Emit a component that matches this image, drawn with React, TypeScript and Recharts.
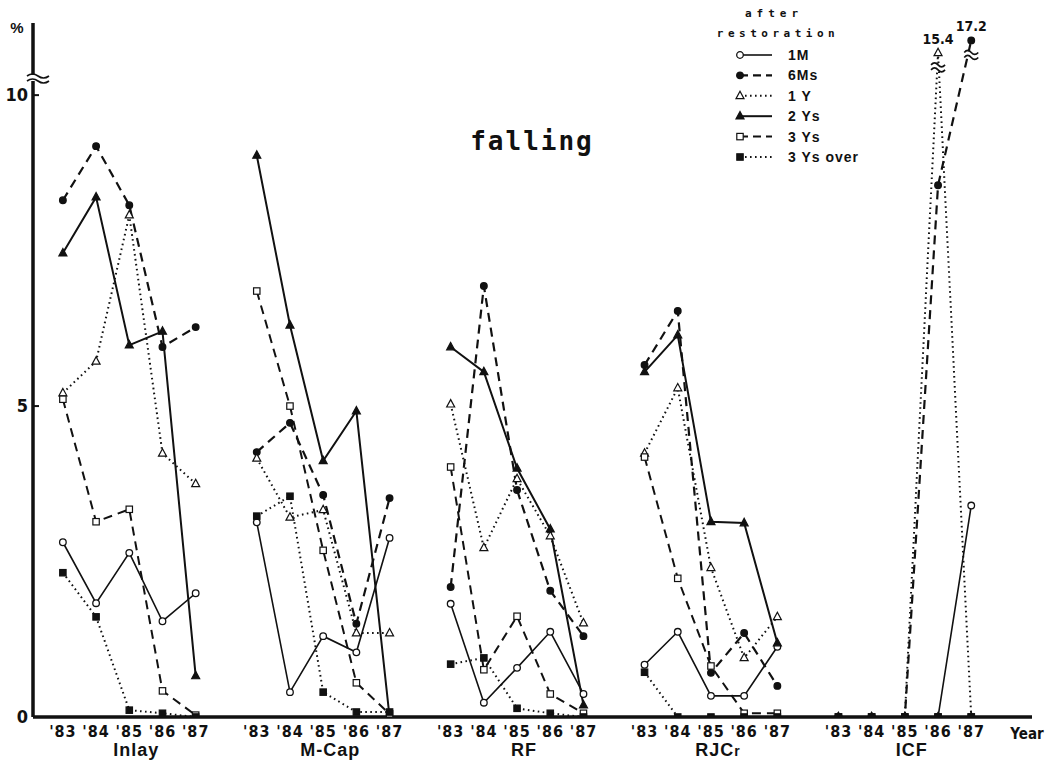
import React from 'react';
import { LineChart, Line, XAxis, YAxis, LabelList } from 'recharts';

// categories
const groups = ['Inlay', 'M-Cap', 'RF', 'RJCr', 'ICF'];
const years = ["'83", "'84", "'85", "'86", "'87"];
const yTicks = [0, 5, 10];

// series values, % (rows = groups, cols = years)
const oneMonth = [
  [2.81, 1.83, 2.64, 1.54, 1.99],
  [3.13, 0.4, 1.3, 1.04, 2.88],
  [1.82, 0.23, 0.79, 1.37, 0.37],
  [0.84, 1.37, 0.34, 0.34, 1.13],
  [0, 0, 0, 0, 3.4],
];
const sixMonths = [
  [8.31, 9.18, 8.23, 5.95, 6.27],
  [4.26, 4.73, 3.57, 1.5, 3.52],
  [2.09, 6.93, 3.65, 2.03, 1.3],
  [5.66, 6.53, 0.71, 1.35, 0.5],
  [0, 0, 0, 8.55, 17.2],
];
const oneYear = [
  [5.21, 5.72, 8.07, 4.24, 3.75],
  [4.16, 3.21, 3.33, 1.35, 1.35],
  [5.03, 2.72, 3.83, 2.91, 1.51],
  [4.24, 5.29, 2.4, 0.95, 1.61],
  [0, 0, 0, 15.4, 0],
];
const twoYears = [
  [7.46, 8.36, 5.98, 6.2, 0.66],
  [9.03, 6.3, 4.12, 4.92, 0],
  [5.95, 5.55, 4.0, 3.02, 0.19],
  [5.55, 6.14, 3.14, 3.12, 1.19],
  [0, 0, 0, 0, 0],
];
const threeYears = [
  [5.11, 3.14, 3.34, 0.42, 0.03],
  [6.85, 5.0, 2.68, 0.55, 0.05],
  [4.02, 0.76, 1.62, 0.37, 0.06],
  [4.18, 2.23, 0.82, 0.06, 0.06],
  [0, 0, 0, 0, 0],
];
const overThreeYears = [
  [2.32, 1.61, 0.11, 0.06, 0],
  [3.23, 3.55, 0.4, 0.08, 0.08],
  [0.85, 0.95, 0.14, 0.06, 0],
  [0.72, 0, 0, 0, 0],
  [0, 0, 0, 0, 0],
];

const INK = '#111';
const GROUP_STEP = 5.84;
const SOLID = undefined;
const DASHED = '9 6';
const DOTTED = '1.6 3.4';

const series = [
  { key: 'm1', name: '1M', values: oneMonth, dash: SOLID, shape: 'circle', filled: false, width: 1.6 },
  { key: 'm6', name: '6Ms', values: sixMonths, dash: DASHED, shape: 'circle', filled: true, width: 2.2 },
  { key: 'y1', name: '1 Y', values: oneYear, dash: DOTTED, shape: 'triangle', filled: false, width: 2 },
  { key: 'y2', name: '2 Ys', values: twoYears, dash: SOLID, shape: 'triangle', filled: true, width: 2 },
  { key: 'y3', name: '3 Ys', values: threeYears, dash: DASHED, shape: 'square', filled: false, width: 2 },
  { key: 'y3o', name: '3 Ys over', values: overThreeYears, dash: DOTTED, shape: 'square', filled: true, width: 2 },
];

// values above 10 go past the axis break
const toDisplay = (v: number) => (v > 10 ? 10.68 + (v - 15.4) * 0.111 : v);

const rows: any[] = [];
const tickInfo = new Map<string, { year: string; group: string; yi: number }>();
groups.forEach((group, gi) => {
  years.forEach((year, yi) => {
    const x = gi * GROUP_STEP + yi;
    const row: any = { x };
    series.forEach((s) => {
      const v = s.values[gi][yi];
      row[s.key] = toDisplay(v);
      row[s.key + '_raw'] = v;
    });
    rows.push(row);
    tickInfo.set(x.toFixed(2), { year, group, yi });
  });
  if (gi < groups.length - 1) {
    const gap: any = { x: gi * GROUP_STEP + 4.5 };
    series.forEach((s) => {
      gap[s.key] = null;
      gap[s.key + '_raw'] = null;
    });
    rows.push(gap);
  }
});
const xTicks = rows.filter((r) => r.m1 != null).map((r) => r.x);

const narrow = "'Liberation Sans Narrow', 'DejaVu Sans Condensed', 'Roboto Condensed', sans-serif";
const sans = "'Liberation Sans', Arial, sans-serif";
const mono = "'DejaVu Sans Mono', monospace";

function Marker({ cx, cy, shape, filled }: any) {
  const fill = filled ? INK : '#fff';
  if (shape === 'circle') return <circle cx={cx} cy={cy} r={3.3} fill={fill} stroke={INK} strokeWidth={1.3} />;
  if (shape === 'triangle')
    return (
      <polygon
        points={`${cx},${cy - 4.6} ${cx - 4},${cy + 2.8} ${cx + 4},${cy + 2.8}`}
        fill={fill}
        stroke={INK}
        strokeWidth={1.2}
      />
    );
  return <rect x={cx - 3.2} y={cy - 3.2} width={6.4} height={6.4} fill={fill} stroke={INK} strokeWidth={1.2} />;
}

function XTick(props: any) {
  const { x, y, payload } = props;
  const info = tickInfo.get(Number(payload.value).toFixed(2));
  if (!info) return <g />;
  return (
    <g>
      <text x={x} y={y + 20} textAnchor="middle" fill={INK} style={{ fontFamily: narrow, fontWeight: 700, fontSize: 16, letterSpacing: 1 }}>
        {info.year}
      </text>
      {info.yi === 2 && (
        <text x={x + 7} y={y + 39} textAnchor="middle" fill={INK} style={{ fontFamily: sans, fontWeight: 700, fontSize: 18, letterSpacing: 1 }}>
          {info.group === 'RJCr' ? (
            <>
              RJC<tspan style={{ fontSize: 14 }}>r</tspan>
            </>
          ) : (
            info.group
          )}
        </text>
      )}
    </g>
  );
}

function YTick(props: any) {
  const { x, y, payload } = props;
  return (
    <g>
      <text x={x - 5} y={y + 6} textAnchor="end" fill={INK} style={{ fontFamily: narrow, fontWeight: 700, fontSize: 18 }}>
        {payload.value}
      </text>
      {payload.value > 0 && <line x1={x} x2={x + 6} y1={y} y2={y} stroke={INK} strokeWidth={2} />}
    </g>
  );
}

function Squiggle({ x, y, w }: any) {
  return (
    <g>
      <rect x={x - w / 2} y={y - 3} width={w} height={6} fill="#fff" />
      <path d={`M${x - w / 2},${y - 2} q${w / 4},-4 ${w / 2},0 t${w / 2},0`} fill="none" stroke={INK} strokeWidth={1.6} />
      <path d={`M${x - w / 2},${y + 3} q${w / 4},-4 ${w / 2},0 t${w / 2},0`} fill="none" stroke={INK} strokeWidth={1.6} />
    </g>
  );
}

const renderBreakLabel = (p: any) => {
  if (p.value == null || p.value <= 10) return null;
  return (
    <g key={`bl-${p.index}`}>
      <text x={p.x} y={p.y - 9} textAnchor="middle" fill={INK} style={{ fontFamily: narrow, fontSize: 14, fontWeight: 700 }}>
        {p.value}
      </text>
      <Squiggle x={p.x} y={p.y + 14} w={14} />
    </g>
  );
};

function LegendSample({ s }: any) {
  return (
    <g>
      <line x1={0} x2={32} y1={0} y2={0} stroke={INK} strokeWidth={s.width} strokeDasharray={s.dash === DASHED ? '8 5' : s.dash} />
      <Marker cx={0} cy={0} shape={s.shape} filled={s.filled} />
    </g>
  );
}

export default function App() {
  return (
    <div style={{ position: 'absolute', left: 0, top: 0, width: 1045, height: 764, background: '#fff' }}>
      <LineChart width={1045} height={764} data={rows} margin={{ top: 23, right: 13, left: 0, bottom: 0 }}>
        <XAxis
          type="number"
          dataKey="x"
          domain={[-0.9, 29.19]}
          ticks={xTicks}
          interval={0}
          tick={<XTick />}
          tickLine={false}
          tickSize={0}
          tickMargin={0}
          height={47}
          axisLine={{ stroke: INK, strokeWidth: 3.5 }}
          allowDataOverflow
        />
        <YAxis
          type="number"
          domain={[0, 11.16]}
          ticks={yTicks}
          interval={0}
          tick={<YTick />}
          tickLine={false}
          tickSize={0}
          tickMargin={0}
          width={33}
          axisLine={{ stroke: INK, strokeWidth: 3.5 }}
          allowDataOverflow
        />
        {series.map((s) => (
          <Line
            key={s.key}
            dataKey={s.key}
            name={s.name}
            type="linear"
            stroke={INK}
            strokeWidth={s.width}
            strokeDasharray={s.dash}
            connectNulls={false}
            isAnimationActive={false}
            dot={(p: any) =>
              p.cx == null || p.cy == null || p.value == null ? (
                <g key={`${s.key}-e-${p.index}`} />
              ) : (
                <Marker key={`${s.key}-${p.index}`} cx={p.cx} cy={p.cy} shape={s.shape} filled={s.filled} />
              )
            }
            activeDot={false}
          >
            <LabelList dataKey={s.key + '_raw'} content={renderBreakLabel} />
          </Line>
        ))}
      </LineChart>
      <svg width={1045} height={764} style={{ position: 'absolute', left: 0, top: 0, pointerEvents: 'none' }}>
        <text x={17} y={33} textAnchor="middle" fill={INK} style={{ fontFamily: sans, fontWeight: 700, fontSize: 15 }}>
          %
        </text>
        <Squiggle x={38} y={78} w={22} />
        <text x={532} y={150} textAnchor="middle" fill={INK} style={{ fontFamily: mono, fontWeight: 700, fontSize: 26, letterSpacing: 2 }}>
          falling
        </text>
        <text x={1027} y={739} textAnchor="middle" fill={INK} style={{ fontFamily: narrow, fontWeight: 700, fontSize: 15 }}>
          Year
        </text>
        <text x={774} y={17} textAnchor="middle" fill={INK} style={{ fontFamily: mono, fontWeight: 700, fontSize: 11, letterSpacing: 5 }}>
          after
        </text>
        <text x={778} y={37} textAnchor="middle" fill={INK} style={{ fontFamily: mono, fontWeight: 700, fontSize: 11, letterSpacing: 4.5 }}>
          restoration
        </text>
        {series.map((s, i) => (
          <g key={s.key} transform={`translate(740, ${55 + i * 20.4})`}>
            <LegendSample s={s} />
            <text x={48} y={5} fill={INK} style={{ fontFamily: sans, fontWeight: 700, fontSize: 14, letterSpacing: 1 }}>
              {s.name}
            </text>
          </g>
        ))}
      </svg>
    </div>
  );
}
